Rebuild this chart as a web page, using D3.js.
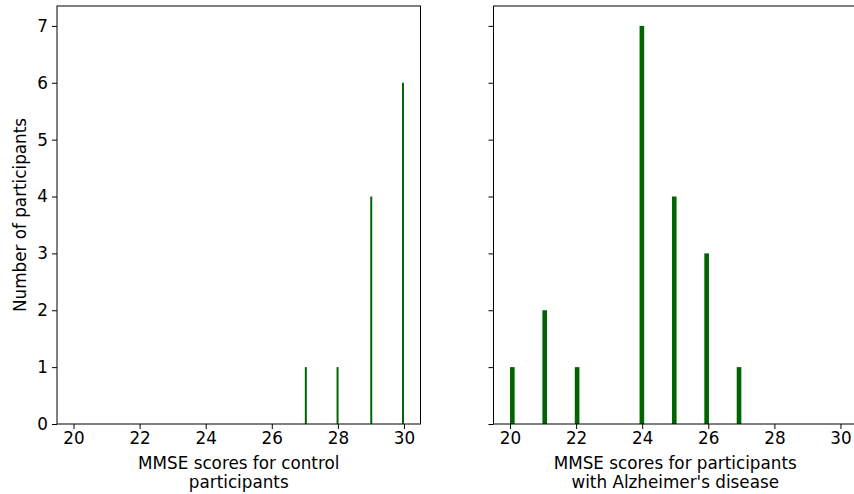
<!DOCTYPE html>
<html>
<head>
<meta charset="utf-8">
<script src="https://cdn.jsdelivr.net/npm/d3@7"></script>
<style>
  body { margin: 0; background: #fff; }
  svg text { font-family: "DejaVu Sans", sans-serif; fill: #000; }
</style>
</head>
<body>
<svg id="chart" width="854" height="494"></svg>
<script>
// Data
const controlScores = [27, 28, 29, 30];
const controlCounts = [1, 1, 4, 6];
const adScores = [20, 21, 22, 24, 25, 26, 27];
const adCounts = [1, 2, 1, 7, 4, 3, 1];
const nBins = 50;
const xTicks = [20, 22, 24, 26, 28, 30];
const yTicks = [0, 1, 2, 3, 4, 5, 6, 7];
const xLabels = [["MMSE scores for control", "participants"], ["MMSE scores for participants", "with Alzheimer's disease"]];
const yLabel = "Number of participants";

(function () {
const svg = d3.select("#chart");
const fontSize = 16.8;
const plotTop = 6, plotBottom = 424;
const panels = [
  { left: 57, right: 420.5, scores: controlScores, counts: controlCounts, labels: xLabels[0], showY: true },
  { left: 493.5, right: 857, scores: adScores, counts: adCounts, labels: xLabels[1], showY: false }
];

const y = d3.scaleLinear().domain([0, 7.35]).range([plotBottom, plotTop]);

function bins(scores, counts) {
  const mn = d3.min(scores), mx = d3.max(scores);
  const w = (mx - mn) / nBins;
  const m = new Map();
  scores.forEach((s, i) => {
    const idx = Math.min(Math.floor((s - mn) / w + 1e-9), nBins - 1);
    m.set(idx, (m.get(idx) || 0) + counts[i]);
  });
  return Array.from(m, ([idx, c]) => ({ x0: mn + idx * w, x1: mn + (idx + 1) * w, c }));
}

panels.forEach(p => {
  const x = d3.scaleLinear().domain([19.5, 30.5]).range([p.left, p.right]);
  const g = svg.append("g");
  g.selectAll("rect.bar").data(bins(p.scores, p.counts)).enter().append("rect")
    .attr("class", "bar")
    .attr("x", d => x(d.x0))
    .attr("width", d => x(d.x1) - x(d.x0))
    .attr("y", d => y(d.c))
    .attr("height", d => y(0) - y(d.c))
    .attr("fill", "#006400");

  const xa = g.append("g").attr("transform", `translate(0,${plotBottom})`)
    .call(d3.axisBottom(x).tickValues(xTicks).tickSize(5).tickPadding(3).tickFormat(d3.format("d")));
  xa.select(".domain").remove();
  xa.selectAll("text").attr("font-size", fontSize).style("font-family", "DejaVu Sans");
  xa.selectAll("line").attr("stroke", "#000").attr("stroke-width", 1);

  const ya = g.append("g").attr("transform", `translate(${p.left},0)`)
    .call(d3.axisLeft(y).tickValues(yTicks).tickSize(5).tickPadding(4).tickFormat(p.showY ? d3.format("d") : ""));
  ya.select(".domain").remove();
  ya.selectAll("text").attr("font-size", fontSize).style("font-family", "DejaVu Sans");
  ya.selectAll("line").attr("stroke", "#000").attr("stroke-width", 1);

  g.append("rect").attr("x", p.left).attr("y", plotTop)
    .attr("width", p.right - p.left).attr("height", plotBottom - plotTop)
    .attr("fill", "none").attr("stroke", "#000").attr("stroke-width", 1);

  const cx = (p.left + p.right) / 2;
  p.labels.forEach((t, i) => {
    g.append("text").attr("x", cx).attr("y", 469 + i * 19)
      .attr("text-anchor", "middle").attr("font-size", fontSize).text(t);
  });
});

svg.append("text")
  .attr("transform", `translate(26,${(plotTop + plotBottom) / 2}) rotate(-90)`)
  .attr("text-anchor", "middle").attr("font-size", fontSize).text(yLabel);
})();
</script>
</body>
</html>
